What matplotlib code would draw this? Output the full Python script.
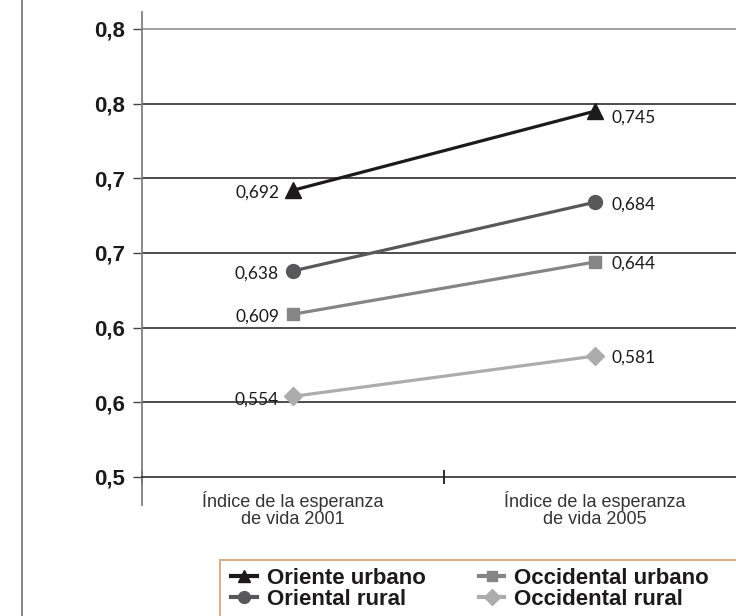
import matplotlib.pyplot as plt
from matplotlib.lines import Line2D
from matplotlib.patches import Rectangle

# categories on the x axis
categories = ["Índice de la esperanza\nde vida 2001", "Índice de la esperanza\nde vida 2005"]

# series (legend order: column 1 then column 2)
names = ["Oriente urbano", "Oriental rural", "Occidental urbano", "Occidental rural"]
oriente_urbano = [0.692, 0.745]
oriental_rural = [0.638, 0.684]
occidental_urbano = [0.609, 0.644]
occidental_rural = [0.554, 0.581]
series = [oriente_urbano, oriental_rural, occidental_urbano, occidental_rural]

colors = ["#1c1a1a", "#58585a", "#858585", "#acacac"]
markers = ["^", "o", "s", "D"]
msizes = [11, 10, 8.5, 9]

# y ticks and their (rounded) labels as printed
yticks = [0.50, 0.55, 0.60, 0.65, 0.70, 0.75, 0.80]
ytick_labels = ["0,5", "0,6", "0,6", "0,7", "0,7", "0,8", "0,8"]

W, H = 736, 616
fig = plt.figure(figsize=(W / 100, H / 100), dpi=100)
ax = fig.add_axes([142 / W, 1 - 505 / H, 604 / W, 493 / H])

xpos = [0.5, 1.5]
for vals, name, c, m, ms in zip(series, names, colors, markers, msizes):
    ax.plot(xpos, vals, color=c, lw=2.3, marker=m, markersize=ms,
            markeredgecolor=c, label=name, zorder=3, clip_on=False)
    # value labels
    lab = lambda v: f"{v:.3f}".replace(".", ",")
    ax.annotate(lab(vals[0]), (xpos[0], vals[0]), xytext=(-10, -2),
                textcoords="offset points", ha="right", va="center",
                fontsize=12.5, family="Lato", color="#1c1a1a")
    dy = -5 if vals[1] > 0.7 else -1.5
    ax.annotate(lab(vals[1]), (xpos[1], vals[1]), xytext=(12, dy),
                textcoords="offset points", ha="left", va="center",
                fontsize=12.5, family="Lato", color="#1c1a1a")

ax.set_xlim(0, 2)
ax.set_ylim(0.48125, 0.81138)

# y axis
ax.set_yticks(yticks)
ax.set_yticklabels(ytick_labels, fontsize=16, fontweight="bold",
                   family="Liberation Sans", color="#1c1a1a")
ax.tick_params(axis="y", direction="out", length=6.5, width=1, color="#444444", pad=6)
for y in yticks[1:]:
    ax.axhline(y, color="#888888" if y == yticks[-1] else "#1c1a1a",
               lw=1.1, zorder=1)

# x axis drawn at 0.5
ax.spines["bottom"].set_position(("data", 0.5))
ax.spines["bottom"].set_color("#1c1a1a")
ax.spines["bottom"].set_linewidth(1.1)
ax.spines["left"].set_color("#808080")
ax.spines["left"].set_linewidth(1.3)
ax.spines["top"].set_visible(False)
ax.spines["right"].set_visible(False)
ax.set_xticks([0, 1, 2])
ax.set_xticklabels([])
ax.set_xticks(xpos, minor=True)
ax.set_xticklabels(categories, minor=True, fontsize=13, family="Liberation Sans",
                   color="#333333", linespacing=1.0)
ax.tick_params(axis="x", which="major", direction="inout", length=9.5, width=1.3,
               color="#1c1a1a")
ax.tick_params(axis="x", which="minor", length=0, pad=10)

# left border line of the page
fig.add_artist(Line2D([22 / W, 22 / W], [1 - 615 / H, 1], transform=fig.transFigure,
                      color="#7a7a7a", lw=1.3))

# legend box (runs off the page edge)
fig.add_artist(Rectangle((220 / W, -0.05), 1.0, 1 - 560 / H + 0.05,
                         transform=fig.transFigure, fill=False,
                         edgecolor="#d9ae8c", lw=1.5))
handles = [Line2D([], [], color=c, marker=m, markersize=ms * 0.85, lw=3.0,
                  markeredgecolor=c) for c, m, ms in zip(colors, markers, msizes)]
leg = fig.legend(handles, names, loc="upper left",
                 bbox_to_anchor=(231 / W, 1 - 568 / H), ncol=2, frameon=False,
                 borderpad=0, borderaxespad=0, handlelength=1.15,
                 handletextpad=0.45, columnspacing=2.4, labelspacing=-0.02,
                 prop={"family": "Liberation Sans", "weight": "bold", "size": 16})
for t in leg.get_texts():
    t.set_color("#1c1a1a")

fig.savefig("out.png", dpi=100)
